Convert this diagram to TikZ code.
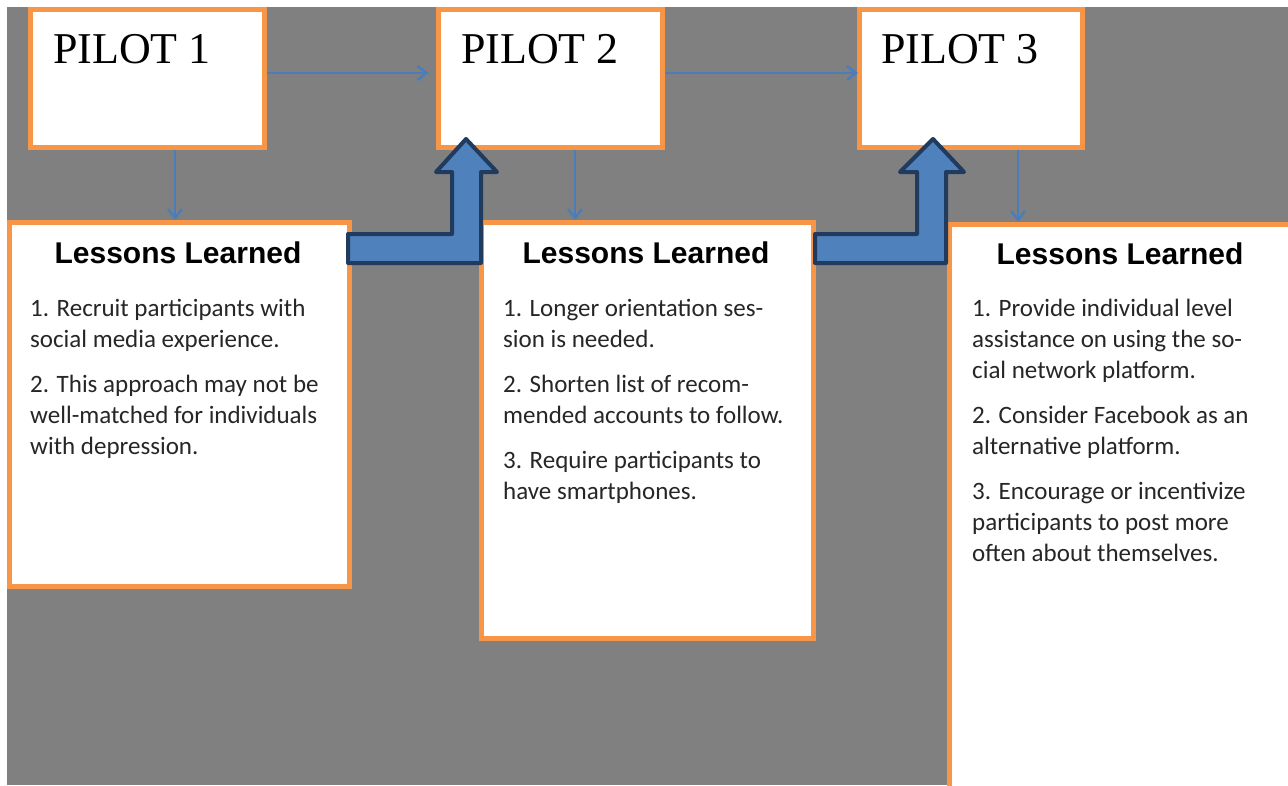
\documentclass[tikz,border=0pt]{standalone}
\usepackage{fontspec}
\setmainfont{Liberation Serif}
\newfontfamily\headfont{Liberation Sans}
\newfontfamily\bodyfont{Carlito}
\usetikzlibrary{arrows.meta}
\definecolor{bggray}{HTML}{808080}
\definecolor{bdorange}{HTML}{F79646}
\definecolor{lnblue}{HTML}{4A7EBB}
\definecolor{arfill}{HTML}{4F81BD}
\definecolor{arline}{HTML}{213B5E}
\begin{document}
\begin{tikzpicture}[x=1pt,y=-1pt,
  box/.style={draw=bdorange, fill=white, line width=5pt, inner sep=0pt, outer sep=0pt, anchor=north west},
  pilottext/.style={font=\fontsize{44}{50}\selectfont, inner sep=0pt, anchor=base west},
  headtext/.style={font=\headfont\bfseries\fontsize{30}{34}\selectfont, inner sep=0pt, anchor=base},
  bodytext/.style={font=\bodyfont\fontsize{25}{31}\selectfont, text=black!85, inner sep=0pt, anchor=base west},
  thinarrow/.style={draw=lnblue, line width=2.5pt, -{Straight Barb[length=9pt,width=14pt]}},
  bigarrow/.style={fill=arfill, draw=arline, line width=4pt, line join=round}]
\useasboundingbox (0,0) rectangle (1288,785);
\fill[bggray] (7,7) rectangle (1288,785);
\begin{scope}
\clip (0,0) rectangle (1288,785);
% pilot boxes
\node[box, minimum width=234pt, minimum height=138pt] (p1) at (30.5,9.5) {};
\node[box, minimum width=224pt, minimum height=138pt] (p2) at (438.5,9.5) {};
\node[box, minimum width=223pt, minimum height=138pt] (p3) at (859.5,9.5) {};
% lessons boxes
\node[box, minimum width=340pt, minimum height=364pt] (l1) at (9.5,222.5) {};
\node[box, minimum width=332pt, minimum height=416pt] (l2) at (481.5,222.5) {};
\node[box, minimum width=341.5pt, minimum height=563.5pt] (l3) at (949.5,224.5) {};
\end{scope}
% pilot titles
\node[pilottext] (t1) at (53,63) {PILOT 1};
\node[pilottext] (t2) at (461,63) {PILOT 2};
\node[pilottext] (t3) at (881,63) {PILOT 3};
% headings
\node[headtext] (h1) at (178,263) {Lessons Learned};
\node[headtext] (h2) at (646,263) {Lessons Learned};
\node[headtext] (h3) at (1120,264) {Lessons Learned};
% body L1
\node[bodytext] (a1) at (30,316) {1. Recruit participants with};
\node[bodytext] (a2) at (30,347) {social media experience.};
\node[bodytext] (a3) at (30,392) {2. This approach may not be};
\node[bodytext] (a4) at (30,423) {well-matched for individuals};
\node[bodytext] (a5) at (30,454) {with depression.};
% body L2
\node[bodytext] (b1) at (503,316) {1. Longer orientation ses-};
\node[bodytext] (b2) at (503,347) {sion is needed.};
\node[bodytext] (b3) at (503,392) {2. Shorten list of recom-};
\node[bodytext] (b4) at (503,423) {mended accounts to follow.};
\node[bodytext] (b5) at (503,468) {3. Require participants to};
\node[bodytext] (b6) at (503,499) {have smartphones.};
% body L3
\node[bodytext] (c1) at (972,316) {1. Provide individual level};
\node[bodytext] (c2) at (972,347) {assistance on using the so-};
\node[bodytext] (c3) at (972,378) {cial network platform.};
\node[bodytext] (c4) at (972,423) {2. Consider Facebook as an};
\node[bodytext] (c5) at (972,454) {alternative platform.};
\node[bodytext] (c6) at (972,499) {3. Encourage or incentivize};
\node[bodytext] (c7) at (972,530) {participants to post more};
\node[bodytext] (c8) at (972,561) {often about themselves.};
% thin connectors
\coordinate (d1) at (175,0);
\coordinate (d2) at (575,0);
\coordinate (d3) at (1018,0);
\draw[thinarrow, shorten <=2.5pt, shorten >=10pt] ([yshift=5.5pt]p1.east) -- ([yshift=5.5pt]p2.west);
\draw[thinarrow, shorten <=2.5pt, shorten >=1.5pt] ([yshift=5.5pt]p2.east) -- ([yshift=5.5pt]p3.west);
\draw[thinarrow, shorten <=2.5pt, shorten >=2.5pt] (p1.south -| d1) -- (l1.north -| d1);
\draw[thinarrow, shorten <=2.5pt, shorten >=2.5pt] (p2.south -| d2) -- (l2.north -| d2);
\draw[thinarrow, shorten <=2.5pt, shorten >=2.5pt] (p3.south -| d3) -- (l3.north -| d3);
% big bent arrows
\draw[bigarrow] (348,234) -- (452,234) -- (452,172) -- (436,172) -- (466,139) -- (497,172) -- (481,172) -- (481,263) -- (348,263) -- cycle;
\draw[bigarrow] (815,234) -- (917,234) -- (917,172) -- (900,172) -- (933,139) -- (964,172) -- (946,172) -- (946,263) -- (815,263) -- cycle;
\end{tikzpicture}
\end{document}
